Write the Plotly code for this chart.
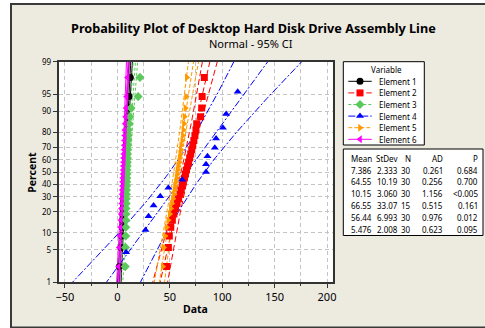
import plotly.graph_objects as go
from statistics import NormalDist

# ---------------- data ----------------
series_names = ["Element 1", "Element 2", "Element 3", "Element 4", "Element 5", "Element 6"]

element_1 = [2.0, 3.6, 4.3, 4.8, 5.0, 5.4, 5.6, 5.9, 6.1, 6.3, 6.5, 6.7, 6.9, 7.1, 7.3,
             7.5, 7.7, 7.9, 8.1, 8.3, 8.5, 8.7, 8.9, 9.2, 9.4, 9.8, 10.2, 10.6, 11.2, 12.4]
element_2 = [47.0, 48.7, 49.6, 51.0, 52.5, 54.0, 55.5, 57.0, 58.5, 60.0, 61.0, 62.0, 63.0, 64.0, 65.0,
             66.0, 67.0, 68.0, 69.0, 70.0, 71.0, 72.0, 73.0, 74.0, 75.0, 75.7, 79.5, 80.5, 80.9, 83.0]
element_3 = [7.6, 7.8, 8.0, 8.1, 8.2, 8.3, 8.4, 8.5, 8.6, 8.7, 8.8, 8.9, 9.0, 9.1, 9.2,
             9.3, 9.4, 9.5, 9.6, 9.7, 9.9, 10.0, 10.2, 10.4, 10.6, 11.4, 11.8, 13.0, 19.9, 21.6]
element_4 = [8.4, 26.9, 29.8, 34.6, 41.0, 48.7, 61.9, 84.6, 84.6, 86.0, 93.0, 94.2, 100.7, 103.8, 114.8]
element_5 = [43.3, 44.2, 45.5, 47.0, 48.5, 50.0, 51.0, 52.0, 53.0, 54.0, 54.5, 55.0, 56.0, 56.5, 57.0,
             57.5, 58.0, 59.0, 59.5, 60.0, 60.5, 61.0, 62.0, 62.5, 63.0, 63.5, 64.0, 64.9, 65.6, 66.2]
element_6 = [1.3, 1.9, 2.6, 3.1, 3.4, 3.7, 4.0, 4.2, 4.4, 4.6, 4.8, 5.0, 5.1, 5.3, 5.5,
             5.6, 5.8, 6.0, 6.1, 6.3, 6.5, 6.7, 6.9, 7.1, 7.3, 7.6, 8.0, 8.4, 8.9, 9.8]
element_data = [element_1, element_2, element_3, element_4, element_5, element_6]

table_mean = [7.386, 64.55, 10.15, 66.55, 56.44, 5.476]
table_stdev = [2.333, 10.19, 3.060, 33.07, 6.993, 2.008]
table_n = [30, 30, 30, 15, 30, 30]
table_ad = [0.261, 0.256, 1.156, 0.515, 0.976, 0.623]
table_p = ["0.684", "0.700", "<0.005", "0.161", "0.012", "0.095"]

percent_ticks = [1, 5, 10, 20, 30, 40, 50, 60, 70, 80, 90, 95, 99]
x_ticks = [-50, 0, 50, 100, 150, 200]

# ---------------- style ----------------
W, H = 485, 328
colors = ["#000000", "#FF0000", "#5BC85B", "#0000FF", "#FF9900", "#FF00FF"]
symbols = ["circle", "square", "diamond", "triangle-up", "triangle-right", "triangle-left"]
dashes = ["solid", "6px,3px", "3px,2px", "7px,2px,2px,2px", "4px,2px", "solid"]
FONT = "Noto Sans"
BG = "#EDEAE0"

# plot area in pixels
PL, PR, PT, PB = 58.5, 332.7, 61.7, 282.3
nd = NormalDist()
zmax = nd.inv_cdf(0.99)


def fx(px):
    return px / W


def fy(py):
    return 1 - py / H


fig = go.Figure()

# fitted lines + 95% CI
zgrid = [-2.6 + k * 0.05 for k in range(105)]
for i in range(6):
    mu, s, n = table_mean[i], table_stdev[i], table_n[i]
    fit = [mu + z * s for z in zgrid]
    half = [1.959964 * s * ((1.0 / n + z * z / (2.0 * n)) ** 0.5) for z in zgrid]
    for xs in (fit, [f - h for f, h in zip(fit, half)], [f + h for f, h in zip(fit, half)]):
        fig.add_trace(go.Scatter(x=xs, y=zgrid, mode="lines", showlegend=False, hoverinfo="skip",
                                 line=dict(color=colors[i], width=1, dash=dashes[i])))

# data points at median-rank plotting positions
for i in range(6):
    vals = sorted(element_data[i])
    n = len(vals)
    zs = [nd.inv_cdf((k + 1 - 0.3) / (n + 0.4)) for k in range(n)]
    fig.add_trace(go.Scatter(x=vals, y=zs, mode="markers", showlegend=False, name=series_names[i],
                             marker=dict(symbol=symbols[i], size=7, color=colors[i], line=dict(width=0))))

# custom legend drawn on an overlay pixel axis
LG_L, LG_T, LG_R, LG_B = 343.3, 61.7, 424.3, 145.0
for i in range(6):
    yy = 81.3 + i * 11.6
    fig.add_trace(go.Scatter(x=[348.3, 371.7], y=[yy, yy], xaxis="x2", yaxis="y2", mode="lines",
                             showlegend=False, hoverinfo="skip",
                             line=dict(color=colors[i], width=1, dash=dashes[i])))
    fig.add_trace(go.Scatter(x=[360.0], y=[yy], xaxis="x2", yaxis="y2", mode="markers",
                             showlegend=False, hoverinfo="skip",
                             marker=dict(symbol=symbols[i], size=7, color=colors[i], line=dict(width=0))))

shapes = [
    dict(type="rect", xref="paper", yref="paper", x0=fx(11), x1=fx(492), y0=fy(4), y1=fy(327.5),
         fillcolor=BG, line=dict(color="#3A3A3A", width=2), layer="below"),
    dict(type="rect", xref="paper", yref="paper", x0=fx(PL), x1=fx(PR), y0=fy(PB), y1=fy(PT),
         fillcolor="white", line=dict(width=0), layer="below"),
    dict(type="rect", xref="paper", yref="paper", x0=fx(LG_L), x1=fx(LG_R), y0=fy(LG_B), y1=fy(LG_T),
         fillcolor="white", line=dict(color="black", width=1), layer="below"),
    dict(type="rect", xref="paper", yref="paper", x0=fx(343.3), x1=fx(483), y0=fy(235.5), y1=fy(149),
         fillcolor="white", line=dict(color="black", width=1), layer="below"),
]

ann = []


def text(x, y, s, size=8, anchor="center", bold=False, angle=0):
    ann.append(dict(x=fx(x), y=fy(y), xref="paper", yref="paper", text=s, showarrow=False,
                    xanchor=anchor, yanchor="middle", textangle=angle,
                    font=dict(family=FONT, size=size, color="black", weight="bold" if bold else "normal")))


text(253, 28, "Probability Plot of Desktop Hard Disk Drive Assembly Line", 12.7, bold=True)
text(251, 43, "Normal - 95% CI", 11)
text(31.7, 172, "Percent", 10.5, bold=True, angle=-90)
text(195.5, 309, "Data", 10.5, bold=True)

LEG_FS = 8.0
text(386.7, 70, "Variable", LEG_FS)
for i in range(6):
    text(377, 81.3 + i * 11.6, series_names[i], LEG_FS, anchor="left")

TAB_FS = 8.0
cols_r = [374, 400, 412.5, 444.5, 480]
for c, h in zip(cols_r, ["Mean", "StDev", "N", "AD", "P"]):
    text(c, 158.3, h, TAB_FS, anchor="right")
for i in range(6):
    yy = 170.0 + i * 11.95
    row = [f"{table_mean[i]:#.4g}", f"{table_stdev[i]:#.4g}", str(table_n[i]),
           f"{table_ad[i]:.3f}", table_p[i]]
    for c, s in zip(cols_r, row):
        text(c, yy, s, TAB_FS, anchor="right")

ppx = (PR - PL) / 1.0486
x0v = (PL - 117.3) / 1.0486
fig.update_layout(
    width=W, height=H, margin=dict(l=0, r=0, t=0, b=0),
    paper_bgcolor="white", plot_bgcolor="rgba(0,0,0,0)",
    shapes=shapes, annotations=ann, showlegend=False,
    font=dict(family=FONT, color="black"),
    xaxis=dict(domain=[fx(PL), fx(PR)], range=[x0v, x0v + ppx], tickvals=x_ticks,
               ticks="outside", ticklen=4, tickcolor="#333", tickfont=dict(size=11, family=FONT),
               showline=True, mirror=True, linecolor="#333", linewidth=1.5,
               showgrid=True, gridcolor="#C4C4C4", griddash="4px,3px", gridwidth=1,
               zeroline=False, automargin=False,
               minor=dict(dtick=25, tick0=0, ticks="outside", ticklen=2, tickcolor="#333",
                          showgrid=True, gridcolor="#C4C4C4", griddash="4px,3px")),
    yaxis=dict(domain=[fy(PB), fy(PT)], range=[-zmax, zmax],
               tickvals=[nd.inv_cdf(p / 100) for p in percent_ticks],
               ticktext=[str(p) for p in percent_ticks],
               ticks="outside", ticklen=4, tickcolor="#333", tickfont=dict(size=8, family=FONT),
               showline=True, mirror=True, linecolor="#333", linewidth=1.5,
               showgrid=True, gridcolor="#C4C4C4", griddash="4px,3px", gridwidth=1,
               zeroline=False, automargin=False),
    xaxis2=dict(domain=[0, 1], range=[0, W], visible=False, fixedrange=True, anchor="y2"),
    yaxis2=dict(domain=[0, 1], range=[H, 0], visible=False, fixedrange=True, anchor="x2"),
)

fig.write_html("out.html", config={"displayModeBar": False},
               post_script="document.body.style.margin='0';document.body.style.overflow='hidden';")
